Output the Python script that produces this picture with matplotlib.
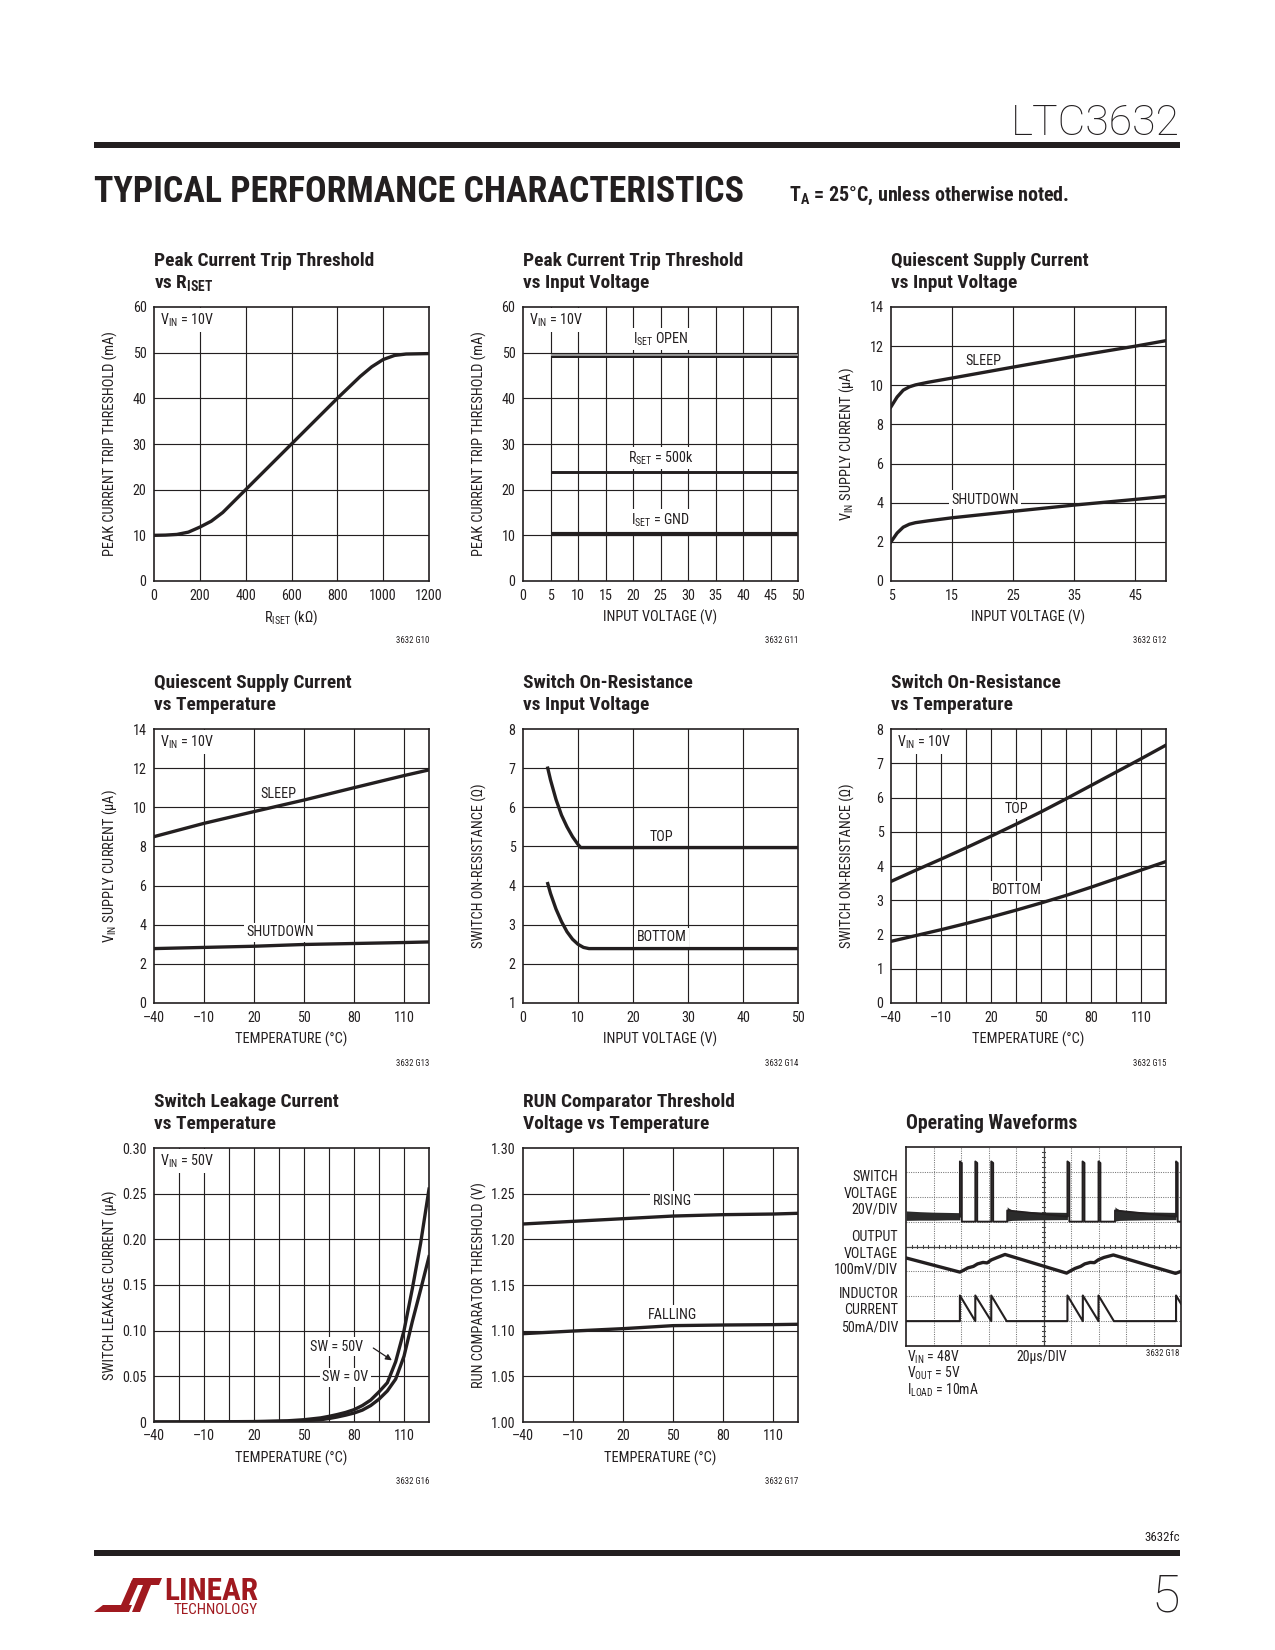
import matplotlib
matplotlib.use("Agg")
import matplotlib.pyplot as plt
from matplotlib import font_manager
from matplotlib.patches import Rectangle, Polygon
import numpy as np

fl = font_manager.fontManager.ttflist
names = {f.name for f in fl}
NARROW = "Liberation Sans"
for n in ["Roboto Condensed", "Liberation Sans Narrow", "Archivo Narrow", "Open Sans Condensed"]:
    if n in names:
        NARROW = n
        break
THIN = "Roboto" if "Roboto" in names else "Liberation Sans"
plt.rcParams["font.family"] = [NARROW, "DejaVu Sans"]
plt.rcParams["mathtext.fontset"] = "custom"
plt.rcParams["mathtext.rm"] = NARROW
plt.rcParams["mathtext.bf"] = NARROW + ":bold"
plt.rcParams["mathtext.it"] = NARROW + ":italic"

INK = "#231f20"
LOGO = "#a0191f"

# ---- data ----
# peak current trip threshold vs RISET
riset_k = [0, 50, 100, 150, 200, 250, 300, 400, 500, 600, 700, 800, 900, 950, 1000, 1050, 1100, 1200]
ipk_riset = [10.0, 10.05, 10.2, 10.7, 11.8, 13.1, 15.0, 20.0, 25.0, 30.0, 35.0, 40.0, 44.8, 46.9, 48.5, 49.4, 49.7, 49.8]

# peak current trip threshold vs input voltage
vin_pk = [5, 50]
ipk_open = [49.4, 49.4]
ipk_500k = [23.9, 23.9]
ipk_gnd = [10.3, 10.3]

# quiescent current vs input voltage
vin_q = [5, 6, 7, 8, 9, 11, 15, 25, 35, 45, 50]
sleep_vin = [8.9, 9.4, 9.75, 9.92, 10.02, 10.15, 10.37, 10.93, 11.48, 12.0, 12.28]
shdn_vin = [2.0, 2.45, 2.75, 2.9, 2.98, 3.07, 3.23, 3.56, 3.88, 4.17, 4.32]

# quiescent current vs temperature
temp_q = [-40, -10, 20, 50, 80, 110, 125]
sleep_temp = [8.5, 9.18, 9.78, 10.37, 11.0, 11.62, 11.91]
shdn_temp = [2.78, 2.84, 2.9, 2.99, 3.04, 3.09, 3.12]

# switch on-resistance vs input voltage
vin_top = [4.5, 5, 6, 7, 8, 9, 10, 10.5, 50]
ron_top_vin = [7.0, 6.7, 6.2, 5.8, 5.5, 5.25, 5.05, 4.97, 4.97]
vin_bot = [4.5, 5, 6, 7, 8, 9, 10, 11, 12, 50]
ron_bot_vin = [4.05, 3.8, 3.4, 3.08, 2.82, 2.63, 2.5, 2.42, 2.39, 2.39]

# switch on-resistance vs temperature
temp_ron = [-40, -25, -10, 5, 20, 35, 50, 65, 80, 95, 110, 125]
ron_top_t = [3.55, 3.88, 4.2, 4.53, 4.87, 5.22, 5.58, 5.96, 6.35, 6.74, 7.13, 7.53]
ron_bot_t = [1.8, 1.97, 2.14, 2.32, 2.51, 2.71, 2.92, 3.14, 3.38, 3.63, 3.88, 4.13]

# switch leakage vs temperature
temp_leak = [-40, -10, 20, 40, 50, 60, 65, 70, 75, 80, 85, 90, 95, 100, 105, 110, 115, 120, 125]
leak_50v = [0.0, 0.0001, 0.0005, 0.0013, 0.0025, 0.0045, 0.0062, 0.0082, 0.0105, 0.0135, 0.018,
            0.024, 0.033, 0.043, 0.066, 0.10, 0.146, 0.196, 0.255]
leak_0v = [0.0, 0.0, 0.0002, 0.0007, 0.0014, 0.0025, 0.0038, 0.0055, 0.0075, 0.0098, 0.013,
           0.018, 0.025, 0.034, 0.047, 0.072, 0.11, 0.145, 0.181]

# RUN comparator threshold vs temperature
temp_run = [-40, -10, 20, 50, 80, 110, 125]
run_rise = [1.2168, 1.2197, 1.2226, 1.2255, 1.227, 1.2277, 1.2285]
run_fall = [1.0967, 1.0996, 1.1022, 1.1055, 1.1062, 1.1066, 1.107]

# operating waveforms, in scope divisions (x 0..10, y 0..8)
sw_t = [1.96, 1.96, 2.03, 2.03, 2.52, 2.52, 2.59, 2.59, 3.10, 3.10, 3.17, 3.17, 3.68, 3.68,
        5.87, 5.87, 5.94, 5.94, 6.42, 6.42, 6.49, 6.49, 7.00, 7.00, 7.07, 7.07, 7.60, 7.60,
        9.82, 9.82, 9.88, 9.88, 10.0]
sw_v = [5.2, 7.42, 7.36, 5.0, 5.0, 7.42, 7.36, 5.0, 5.0, 7.42, 7.36, 5.0, 5.0, 5.45,
        5.2, 7.42, 7.36, 5.0, 5.0, 7.42, 7.36, 5.0, 5.0, 7.42, 7.36, 5.0, 5.0, 5.45,
        5.2, 7.42, 7.36, 5.0, 5.0]
ring_t = [[0.0, 0.5, 1.0, 1.5, 1.96],
          [3.68, 3.72, 3.85, 4.2, 4.8, 5.87],
          [7.60, 7.64, 7.77, 8.12, 8.72, 9.82]]
ring_hi = [[5.43, 5.4, 5.38, 5.37, 5.36],
           [5.6, 5.55, 5.47, 5.42, 5.39, 5.37],
           [5.6, 5.55, 5.47, 5.42, 5.39, 5.37]]
ring_lo = [[5.05, 5.06, 5.06, 5.07, 5.07],
           [5.02, 5.03, 5.05, 5.06, 5.07, 5.08],
           [5.02, 5.03, 5.05, 5.06, 5.07, 5.08]]
vout_t = [0, 1.96, 2.1, 2.25, 2.45, 2.6, 2.8, 2.95, 3.1, 3.3, 3.6, 5.84,
          5.98, 6.15, 6.35, 6.5, 6.7, 6.85, 7.0, 7.2, 7.54, 9.8, 10.0]
vout_v = [3.54, 2.97, 3.05, 3.14, 3.2, 3.3, 3.36, 3.34, 3.46, 3.55, 3.68, 2.93,
          3.02, 3.12, 3.2, 3.3, 3.36, 3.35, 3.47, 3.56, 3.66, 2.92, 3.0]
il_t = [0, 1.96, 1.96, 2.52, 2.52, 3.10, 3.10, 3.66, 5.87, 5.87, 6.43, 6.43, 7.00, 7.00, 7.56,
        9.82, 9.82, 10.0]
il_v = [1.0, 1.0, 2.03, 1.0, 2.03, 1.0, 2.03, 1.0, 1.0, 2.03, 1.0, 2.03, 1.0, 2.03, 1.0,
        1.0, 2.03, 1.7]

temp_ticks = [-40, -10, 20, 50, 80, 110]
temp_labels = ["\u201340", "\u201310", "20", "50", "80", "110"]

W, H = 1275, 1650
fig = plt.figure(figsize=(8.5, 11), dpi=150)
AW, AH = 275, 274
TICK = 6.8
LAB = 6.9
NOTE = 6.8


def fx(x):
    return x / W


def fy(y):
    return 1 - y / H


def panel(left, top, title, xlabel, ylabel, code, xlim, ylim, xt, xl, yt, yl, xg, yg):
    ax = fig.add_axes([fx(left), fy(top + AH), AW / W, AH / H])
    ax.set_xlim(*xlim)
    ax.set_ylim(*ylim)
    ax.set_xticks(xt, xl)
    ax.set_yticks(yt, yl)
    ax.tick_params(length=0, labelsize=TICK, pad=3.6, colors=INK)
    for s in ax.spines.values():
        s.set_linewidth(0.8)
        s.set_color(INK)
    for g in xg:
        ax.axvline(g, color=INK, lw=0.55, zorder=1)
    for g in yg:
        ax.axhline(g, color=INK, lw=0.55, zorder=1)
    fig.text(fx(left), fy(top - 41), title[0], fontsize=9.3, fontweight="bold", color=INK, va="baseline")
    fig.text(fx(left), fy(top - 19), title[1], fontsize=9.3, fontweight="bold", color=INK, va="baseline")
    fig.text(fx(left + AW / 2), fy(top + AH + 41), xlabel, fontsize=LAB, color=INK, ha="center", va="baseline")
    fig.text(fx(left - 44), fy(top + AH / 2), ylabel, fontsize=LAB, color=INK, ha="center", va="center",
             rotation=90)
    fig.text(fx(left + AW), fy(top + AH + 60), code, fontsize=4.2, color=INK, ha="right", va="center")
    return ax


def label(ax, x, y, s, box=True, ha="center"):
    kw = dict(bbox=dict(fc="white", ec="none", pad=1.2)) if box else {}
    ax.text(x, y, s, fontsize=NOTE, color=INK, ha=ha, va="baseline", zorder=2, **kw)


def vin_note(ax, s):
    ax.text(6 / AW, 1 - 13 / AH, s, transform=ax.transAxes, fontsize=NOTE, color=INK, ha="left",
            va="center", zorder=2, bbox=dict(fc="white", ec="none", pad=1.5))


LW = 1.6
cols = [154, 523, 891]
rows = [307, 729, 1148]

# 1
ax = panel(cols[0], rows[0], ["Peak Current Trip Threshold", r"vs R$_{\mathbf{ISET}}$"],
           r"R$_{\rm ISET}$ (kΩ)", "PEAK CURRENT TRIP THRESHOLD (mA)", "3632 G10",
           (0, 1200), (0, 60), range(0, 1201, 200), [str(v) for v in range(0, 1201, 200)],
           range(0, 61, 10), [str(v) for v in range(0, 61, 10)],
           range(200, 1001, 200), range(10, 51, 10))
ax.plot(riset_k, ipk_riset, color=INK, lw=LW, zorder=3)
vin_note(ax, r"V$_{\rm IN}$ = 10V")

# 2
ax = panel(cols[1], rows[0], ["Peak Current Trip Threshold", "vs Input Voltage"],
           "INPUT VOLTAGE (V)", "PEAK CURRENT TRIP THRESHOLD (mA)", "3632 G11",
           (0, 50), (0, 60), range(0, 51, 5), [str(v) for v in range(0, 51, 5)],
           range(0, 61, 10), [str(v) for v in range(0, 61, 10)],
           range(5, 46, 5), range(10, 51, 10))
ax.plot(vin_pk, ipk_open, color=INK, lw=2.4, zorder=3, solid_capstyle="butt")
ax.plot(vin_pk, ipk_open, color="#9a9a9a", lw=0.9, zorder=3, solid_capstyle="butt")
ax.plot(vin_pk, ipk_500k, color=INK, lw=1.4, zorder=3, solid_capstyle="butt")
ax.plot(vin_pk, ipk_gnd, color=INK, lw=2.0, zorder=3, solid_capstyle="butt")
vin_note(ax, r"V$_{\rm IN}$ = 10V")
label(ax, 25, 52.0, r"I$_{\rm SET}$ OPEN")
label(ax, 25, 26.0, r"R$_{\rm SET}$ = 500k")
label(ax, 25, 12.3, r"I$_{\rm SET}$ = GND")

# 3
ax = panel(cols[2], rows[0], ["Quiescent Supply Current", "vs Input Voltage"],
           "INPUT VOLTAGE (V)", r"V$_{\rm IN}$ SUPPLY CURRENT (µA)", "3632 G12",
           (5, 50), (0, 14), [5, 15, 25, 35, 45], ["5", "15", "25", "35", "45"],
           range(0, 15, 2), [str(v) for v in range(0, 15, 2)],
           [15, 25, 35, 45], range(2, 13, 2))
ax.plot(vin_q, sleep_vin, color=INK, lw=LW, zorder=3)
ax.plot(vin_q, shdn_vin, color=INK, lw=LW, zorder=3)
label(ax, 20.1, 11.05, "SLEEP", box=False)
label(ax, 20.4, 3.95, "SHUTDOWN")

# 4
ax = panel(cols[0], rows[1], ["Quiescent Supply Current", "vs Temperature"],
           "TEMPERATURE (°C)", r"V$_{\rm IN}$ SUPPLY CURRENT (µA)", "3632 G13",
           (-40, 125), (0, 14), temp_ticks, temp_labels,
           range(0, 15, 2), [str(v) for v in range(0, 15, 2)],
           [-10, 20, 50, 80, 110], range(2, 13, 2))
ax.plot(temp_q, sleep_temp, color=INK, lw=LW, zorder=3)
ax.plot(temp_q, shdn_temp, color=INK, lw=LW, zorder=3)
vin_note(ax, r"V$_{\rm IN}$ = 10V")
label(ax, 34.6, 10.5, "SLEEP", box=False)
label(ax, 35.8, 3.41, "SHUTDOWN")

# 5
ax = panel(cols[1], rows[1], ["Switch On-Resistance", "vs Input Voltage"],
           "INPUT VOLTAGE (V)", "SWITCH ON-RESISTANCE (Ω)", "3632 G14",
           (0, 50), (1, 8), range(0, 51, 10), [str(v) for v in range(0, 51, 10)],
           range(1, 9), [str(v) for v in range(1, 9)],
           range(10, 41, 10), range(2, 8))
ax.plot(vin_top, ron_top_vin, color=INK, lw=LW, zorder=3)
ax.plot(vin_bot, ron_bot_vin, color=INK, lw=LW, zorder=3)
label(ax, 25.2, 5.15, "TOP", box=False)
label(ax, 25.2, 2.58, "BOTTOM")

# 6
ax = panel(cols[2], rows[1], ["Switch On-Resistance", "vs Temperature"],
           "TEMPERATURE (°C)", "SWITCH ON-RESISTANCE (Ω)", "3632 G15",
           (-40, 125), (0, 8), temp_ticks, temp_labels,
           range(0, 9), [str(v) for v in range(0, 9)],
           range(-25, 111, 15), range(1, 8))
ax.plot(temp_ron, ron_top_t, color=INK, lw=LW, zorder=3)
ax.plot(temp_ron, ron_bot_t, color=INK, lw=LW, zorder=3)
vin_note(ax, r"V$_{\rm IN}$ = 10V")
label(ax, 35.4, 5.54, "TOP")
label(ax, 35.4, 3.17, "BOTTOM")

# 7
ax = panel(cols[0], rows[2], ["Switch Leakage Current", "vs Temperature"],
           "TEMPERATURE (°C)", "SWITCH LEAKAGE CURRENT (µA)", "3632 G16",
           (-40, 125), (0, 0.30), temp_ticks, temp_labels,
           [0, 0.05, 0.10, 0.15, 0.20, 0.25, 0.30], ["0", "0.05", "0.10", "0.15", "0.20", "0.25", "0.30"],
           range(-25, 111, 15), [0.05, 0.10, 0.15, 0.20, 0.25])
ax.plot(temp_leak, leak_50v, color=INK, lw=LW, zorder=3)
ax.plot(temp_leak, leak_0v, color=INK, lw=LW, zorder=3)
vin_note(ax, r"V$_{\rm IN}$ = 50V")
label(ax, 69.8, 0.078, "SW = 50V")
label(ax, 74.8, 0.0444, "SW = 0V")
ax.annotate("", xy=(104.8, 0.065), xytext=(89.5, 0.0835),
            arrowprops=dict(arrowstyle="-|>", lw=0.6, color=INK, mutation_scale=6), zorder=6)

# 8
ax = panel(cols[1], rows[2], ["RUN Comparator Threshold", "Voltage vs Temperature"],
           "TEMPERATURE (°C)", "RUN COMPARATOR THRESHOLD (V)", "3632 G17",
           (-40, 125), (1.0, 1.30), temp_ticks, temp_labels,
           [1.0, 1.05, 1.10, 1.15, 1.20, 1.25, 1.30], ["1.00", "1.05", "1.10", "1.15", "1.20", "1.25", "1.30"],
           [-10, 20, 50, 80, 110], [1.05, 1.10, 1.15, 1.20, 1.25])
ax.plot(temp_run, run_rise, color=INK, lw=LW, zorder=3)
ax.plot(temp_run, run_fall, color=INK, lw=LW, zorder=3)
label(ax, 49.6, 1.238, "RISING")
label(ax, 49.6, 1.113, "FALLING")

# 9 operating waveforms (scope shot)
SL, ST, SW_, SH = 906, 1147, 275, 199
sx = fig.add_axes([fx(SL), fy(ST + SH), SW_ / W, SH / H])
sx.set_xlim(0, 10)
sx.set_ylim(0, 8)
sx.set_xticks([])
sx.set_yticks([])
for s in sx.spines.values():
    s.set_linewidth(0.8)
    s.set_color(INK)
for i in range(1, 10):
    sx.axvline(i, color="#777777", lw=0.5, ls=(0, (1, 1.2)), zorder=1)
for j in range(1, 8):
    sx.axhline(j, color="#777777", lw=0.5, ls=(0, (1, 1.2)), zorder=1)
sx.axvline(5, color="#444444", lw=0.6, zorder=1)
sx.axhline(4, color="#444444", lw=0.6, zorder=1)
for m in np.arange(0.2, 10, 0.2):
    sx.plot([m, m], [3.93, 4.07], color="#444444", lw=0.5, zorder=1)
for m in np.arange(0.2, 8, 0.2):
    sx.plot([4.94, 5.06], [m, m], color="#444444", lw=0.5, zorder=1)
for t, hi, lo in zip(ring_t, ring_hi, ring_lo):
    sx.fill_between(t, lo, hi, color="#2b2b2b", lw=0, zorder=3)
sx.plot(sw_t, sw_v, color=INK, lw=0.9, zorder=4)
sx.plot(vout_t, vout_v, color=INK, lw=1.6, zorder=4)
sx.plot(il_t, il_v, color=INK, lw=1.0, zorder=4)
fig.text(fx(SL), fy(ST - 18), "Operating Waveforms", fontsize=9.5, fontweight="bold", color=INK,
         va="baseline")
for y0, lines in [(1177, ["SWITCH", "VOLTAGE", "20V/DIV"]),
                  (1237, ["OUTPUT", "VOLTAGE", "100mV/DIV"]),
                  (1294, ["INDUCTOR", "CURRENT", "50mA/DIV"])]:
    for k, s in enumerate(lines):
        fig.text(fx(898), fy(y0 + k * 16.5), s, fontsize=6.8, color=INK, ha="right", va="center")
fig.text(fx(907), fy(1357), r"V$_{\rm IN}$ = 48V", fontsize=6.6, color=INK, va="center")
fig.text(fx(907), fy(1373), r"V$_{\rm OUT}$ = 5V", fontsize=6.6, color=INK, va="center")
fig.text(fx(907), fy(1390), r"I$_{\rm LOAD}$ = 10mA", fontsize=6.6, color=INK, va="center")
fig.text(fx(1016), fy(1357), "20µs/DIV", fontsize=6.6, color=INK, va="center")
fig.text(fx(1179), fy(1353), "3632 G18", fontsize=4.2, color=INK, ha="right", va="center")

# ---- page furniture ----
renderer = fig.canvas.get_renderer()


def fit_width(t, width_px):
    bb = t.get_window_extent(renderer=renderer)
    t.set_fontsize(t.get_fontsize() * width_px / bb.width)


fig.text(fx(1180), fy(135), "LTC3632", fontsize=20.5, family=[THIN, "DejaVu Sans"], fontweight="light",
         color=INK, ha="right", va="baseline")
fig.add_artist(Rectangle((fx(94), fy(148)), (1180 - 94) / W, 6 / H, transform=fig.transFigure,
                         color=INK, lw=0))
t = fig.text(fx(94), fy(202), "TYPICAL PERFORMANCE CHARACTERISTICS", fontsize=18, fontweight="heavy",
             color=INK, va="baseline")
fit_width(t, 650)
t = fig.text(fx(789), fy(201), r"T$_{\mathbf{A}}$ = 25°C, unless otherwise noted.", fontsize=8.5,
             fontweight="bold", color=INK, va="baseline")
fit_width(t, 282)

fig.text(fx(1180), fy(1541), "3632fc", fontsize=6.2, color=INK, ha="right", va="baseline")
fig.add_artist(Rectangle((fx(94), fy(1556)), (1180 - 94) / W, 6 / H, transform=fig.transFigure,
                         color=INK, lw=0))
fig.text(fx(1180), fy(1612), "5", fontsize=25, family=[THIN, "DejaVu Sans"], fontweight="light",
         color=INK, ha="right", va="baseline")

# Linear Technology logo (rough)
logo_shapes = [
    [(94, 1612), (129, 1612), (132, 1605), (103, 1605)],
    [(121, 1605), (132, 1580), (140, 1580), (129, 1605)],
    [(133, 1578), (162, 1578), (159, 1585), (130, 1585)],
    [(143, 1585), (151, 1585), (140, 1612), (132, 1612)],
]
for pts in logo_shapes:
    fig.add_artist(Polygon([(fx(px), fy(py)) for px, py in pts], closed=True,
                           transform=fig.transFigure, color=LOGO, lw=0))
t = fig.text(fx(164), fy(1600), "LINEAR", fontsize=16, fontweight="bold", color=LOGO, va="baseline")
fit_width(t, 94)
t = fig.text(fx(174), fy(1614), "TECHNOLOGY", fontsize=5, color=LOGO, va="baseline")
fit_width(t, 84)

fig.savefig("out.png", dpi=150)
